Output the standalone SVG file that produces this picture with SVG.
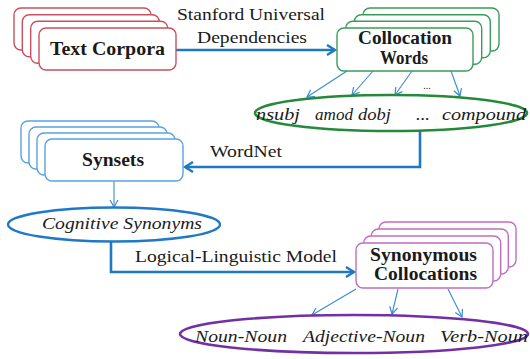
<svg xmlns="http://www.w3.org/2000/svg" width="530" height="359" viewBox="0 0 530 359">
  <style>
    .bg { fill: #ffffff; }
    .box { fill: #ffffff; stroke-width: 1.4; }
    .red { stroke: #c9505e; }
    .green { stroke: #3a9c5a; }
    .blue { stroke: #5aa2e2; }
    .purple { stroke: #c06cc4; }
    .lbl { fill: #1a1a1a; font-family: "Liberation Serif", "Times New Roman", serif; }
    .b { font-weight: bold; font-size: 18px; }
    .it { font-style: italic; font-size: 17px; }
    .plain { font-size: 17px; }
    .thick { fill: none; stroke: #1f78c4; stroke-width: 2.6; }
    .thin { fill: none; stroke: #3b8ad0; stroke-width: 1.1; }
  </style>
  <defs>
    <marker id="bigHead" markerUnits="userSpaceOnUse" markerWidth="14" markerHeight="14" refX="10" refY="6" orient="auto">
      <path d="M2,1 L10,6 L2,11" fill="none" stroke="#1f78c4" stroke-width="2.4"/>
    </marker>
    <marker id="smallHead" markerUnits="userSpaceOnUse" markerWidth="12" markerHeight="12" refX="8" refY="5" orient="auto">
      <path d="M1,1 L8,5 L1,9" fill="none" stroke="#3b8ad0" stroke-width="1.2"/>
    </marker>
  </defs>
  <rect class="bg" x="0" y="0" width="530" height="359"/>

  <!-- connectors and their labels -->
  <g id="connectors">
    <line class="thick" x1="176" y1="50" x2="335" y2="50" marker-end="url(#bigHead)"/>
    <line class="thin" x1="347" y1="71" x2="307" y2="97" marker-end="url(#smallHead)"/>
    <line class="thin" x1="373" y1="71" x2="352" y2="95" marker-end="url(#smallHead)"/>
    <line class="thin" x1="412" y1="71" x2="395" y2="95" marker-end="url(#smallHead)"/>
    <line class="thin" x1="451" y1="71" x2="460" y2="96" marker-end="url(#smallHead)"/>
    <polyline class="thick" points="420,131 420,167 185,167" marker-end="url(#bigHead)"/>
    <line class="thin" x1="114" y1="181" x2="114" y2="207" marker-end="url(#smallHead)"/>
    <polyline class="thick" points="111,242 111,272 354,272" marker-end="url(#bigHead)"/>
    <line class="thin" x1="356" y1="289" x2="312" y2="315" marker-end="url(#smallHead)"/>
    <line class="thin" x1="398" y1="289" x2="392" y2="314" marker-end="url(#smallHead)"/>
    <line class="thin" x1="448" y1="289" x2="462" y2="317" marker-end="url(#smallHead)"/>
    <text class="lbl plain" x="251" y="20" text-anchor="middle" textLength="148" lengthAdjust="spacingAndGlyphs">Stanford Universal</text>
    <text class="lbl plain" x="252" y="43" text-anchor="middle" textLength="110" lengthAdjust="spacingAndGlyphs">Dependencies</text>
    <text class="lbl" x="427" y="89" font-size="10" text-anchor="middle">...</text>
    <text class="lbl plain" x="210" y="157" textLength="72" lengthAdjust="spacingAndGlyphs">WordNet</text>
    <text class="lbl plain" x="135" y="262" textLength="202" lengthAdjust="spacingAndGlyphs">Logical-Linguistic Model</text>
  </g>

  <!-- Text Corpora -->
  <g id="text-corpora">
    <rect class="box red" x="14" y="8" width="137" height="42" rx="7"/>
    <rect class="box red" x="22.3" y="14.7" width="137" height="42" rx="7"/>
    <rect class="box red" x="30.7" y="21.3" width="137" height="42" rx="7"/>
    <rect class="box red" x="39" y="28" width="137" height="42" rx="7"/>
    <text class="lbl b" x="107.5" y="55" text-anchor="middle" textLength="115" lengthAdjust="spacingAndGlyphs">Text Corpora</text>
  </g>

  <!-- Collocation Words -->
  <g id="collocation-words">
    <rect class="box green" x="363" y="8" width="136" height="43" rx="7"/>
    <rect class="box green" x="354.3" y="14.7" width="136" height="43" rx="7"/>
    <rect class="box green" x="345.7" y="21.3" width="136" height="43" rx="7"/>
    <rect class="box green" x="337" y="28" width="136" height="43" rx="7"/>
    <text class="lbl b" x="405" y="44" text-anchor="middle" textLength="94" lengthAdjust="spacingAndGlyphs">Collocation</text>
    <text class="lbl b" x="404" y="64" text-anchor="middle" textLength="48" lengthAdjust="spacingAndGlyphs">Words</text>
  </g>

  <!-- relation types -->
  <g id="relations">
    <ellipse cx="391" cy="113" rx="136" ry="18" fill="#ffffff" stroke="#24893a" stroke-width="2.6"/>
    <text class="lbl it" y="120">
      <tspan x="256" textLength="44" lengthAdjust="spacingAndGlyphs">nsubj</tspan>
      <tspan x="315" textLength="38" lengthAdjust="spacingAndGlyphs">amod</tspan>
      <tspan x="358" textLength="33" lengthAdjust="spacingAndGlyphs">dobj</tspan>
      <tspan x="416" textLength="14" lengthAdjust="spacingAndGlyphs">...</tspan>
      <tspan x="442" textLength="84" lengthAdjust="spacingAndGlyphs">compound</tspan>
    </text>
  </g>

  <!-- Synsets -->
  <g id="synsets">
    <rect class="box blue" x="21" y="121" width="138" height="42" rx="7"/>
    <rect class="box blue" x="29" y="127" width="138" height="42" rx="7"/>
    <rect class="box blue" x="37" y="133" width="138" height="42" rx="7"/>
    <rect class="box blue" x="45" y="139" width="138" height="42" rx="7"/>
    <text class="lbl b" x="113" y="166" text-anchor="middle" textLength="62" lengthAdjust="spacingAndGlyphs">Synsets</text>
  </g>

  <!-- Cognitive Synonyms -->
  <g id="cognitive-synonyms">
    <ellipse cx="114" cy="224.5" rx="106" ry="17" fill="#ffffff" stroke="#2078c6" stroke-width="2.4"/>
    <text class="lbl it" x="122" y="229" text-anchor="middle" textLength="160" lengthAdjust="spacingAndGlyphs">Cognitive Synonyms</text>
  </g>

  <!-- Synonymous Collocations -->
  <g id="synonymous-collocations">
    <rect class="box purple" x="379" y="222" width="137" height="45" rx="7"/>
    <rect class="box purple" x="371.3" y="229" width="137" height="45" rx="7"/>
    <rect class="box purple" x="363.7" y="236" width="137" height="45" rx="7"/>
    <rect class="box purple" x="356" y="243" width="137" height="45" rx="7"/>
    <text class="lbl b" x="423.5" y="261" text-anchor="middle" textLength="107" lengthAdjust="spacingAndGlyphs">Synonymous</text>
    <text class="lbl b" x="425.5" y="280" text-anchor="middle" textLength="103" lengthAdjust="spacingAndGlyphs">Collocations</text>
  </g>

  <!-- collocation patterns -->
  <g id="patterns">
    <ellipse cx="354" cy="334" rx="174" ry="19" fill="#ffffff" stroke="#7330a4" stroke-width="2.6"/>
    <text class="lbl it" y="342">
      <tspan x="195" textLength="92" lengthAdjust="spacingAndGlyphs">Noun-Noun</tspan>
      <tspan x="303" textLength="122" lengthAdjust="spacingAndGlyphs">Adjective-Noun</tspan>
      <tspan x="440" textLength="88" lengthAdjust="spacingAndGlyphs">Verb-Noun</tspan>
    </text>
  </g>
</svg>
